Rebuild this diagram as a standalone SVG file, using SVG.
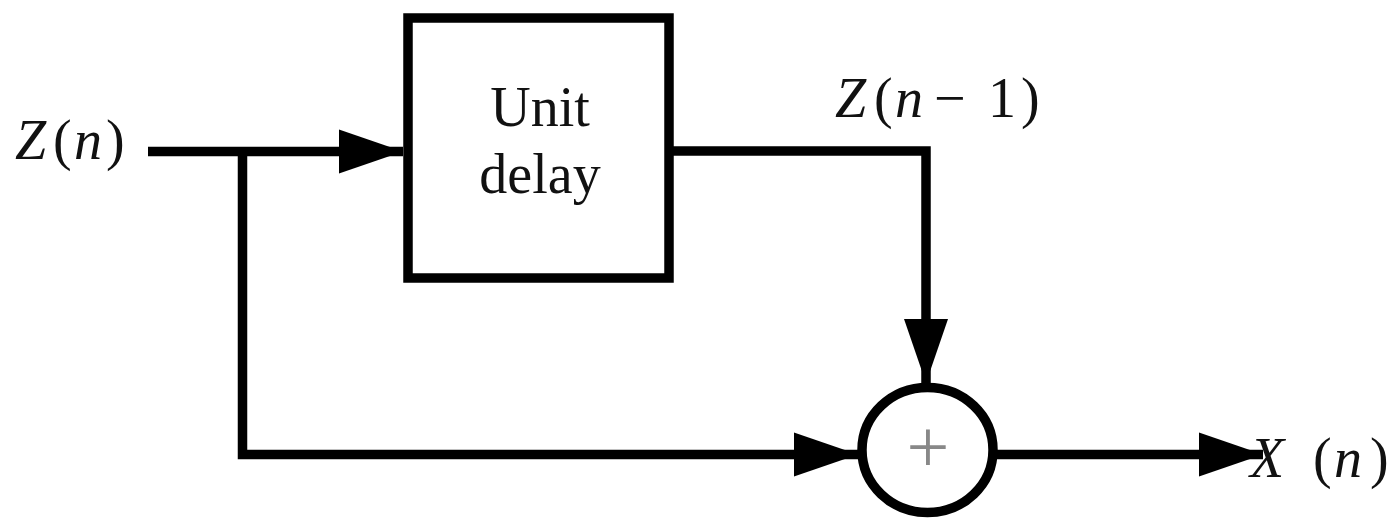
<svg xmlns="http://www.w3.org/2000/svg" width="1391" height="518" viewBox="0 0 1391 518">
<style>
.ln{fill:none;stroke:#000;stroke-width:9.5}
.lbl{font-family:"Liberation Serif","Times New Roman",serif;font-size:56px;fill:#111}
.it{font-style:italic}
.plus{font-family:"Liberation Serif",serif;font-size:76px;fill:#888}
</style>
<defs>
<marker id="ah" markerUnits="userSpaceOnUse" markerWidth="66" markerHeight="46" refX="64" refY="22" orient="auto" overflow="visible">
<path d="M0,0 L64,22 L0,44 z" fill="#000"/>
</marker>
</defs>
<g id="delay">
<rect x="408" y="18" width="261" height="260" class="ln"/>
<text class="lbl" x="540" y="126" text-anchor="middle">Unit</text>
<text class="lbl" x="540" y="193" text-anchor="middle">delay</text>
</g>
<g id="sum">
<ellipse cx="927.5" cy="450" rx="65.5" ry="62.5" class="ln"/>
<text class="plus" x="928" y="472" text-anchor="middle">+</text>
</g>
<g id="labels">
<text class="lbl" y="159"><tspan class="it" x="15">Z</tspan><tspan x="53">(</tspan><tspan class="it" x="74">n</tspan><tspan x="106">)</tspan></text>
<text class="lbl" y="117"><tspan class="it" x="835">Z</tspan><tspan x="874">(</tspan><tspan class="it" x="895">n</tspan><tspan x="934">−</tspan><tspan x="988">1</tspan><tspan x="1021">)</tspan></text>
<text class="lbl" y="477"><tspan class="it" x="1250">X</tspan><tspan x="1313">(</tspan><tspan class="it" x="1334">n</tspan><tspan x="1370">)</tspan></text>
</g>
<g id="connectors">
<line x1="148" y1="151.5" x2="403" y2="151.5" class="ln" marker-end="url(#ah)"/>
<polyline points="242.5,151.5 242.5,454.5 858,454.5" class="ln" marker-end="url(#ah)"/>
<polyline points="673,151 926,151 926,383" class="ln" marker-end="url(#ah)"/>
<line x1="997" y1="454.5" x2="1263" y2="454.5" class="ln" marker-end="url(#ah)"/>
</g>
</svg>
